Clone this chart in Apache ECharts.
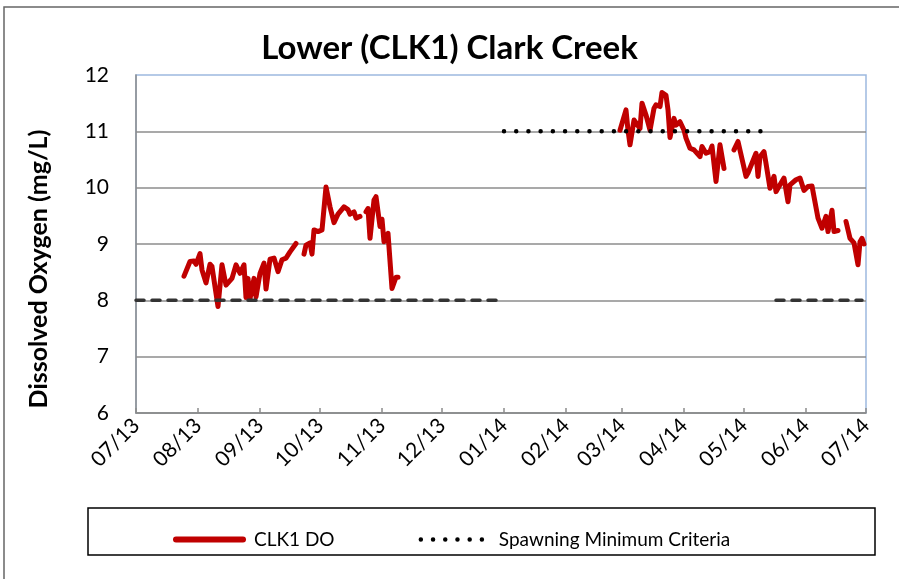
<!DOCTYPE html>
<html>
<head>
<meta charset="utf-8">
<script src="https://cdn.jsdelivr.net/npm/echarts@6/dist/echarts.min.js"></script>
<style>
  html, body { margin: 0; padding: 0; background: #fff; }
  #container { width: 899px; height: 579px; }
</style>
</head>
<body>
<div id="container"></div>
<script>
var dom = document.getElementById("container");
var myChart = echarts.init(dom);

// month ticks along the bottom
var tickDates = ['2013-07-01', '2013-08-01', '2013-09-01', '2013-10-01', '2013-11-01', '2013-12-01',
    '2014-01-01', '2014-02-01', '2014-03-01', '2014-04-01', '2014-05-01', '2014-06-01', '2014-07-01'];
var tickLabels = ['07/13', '08/13', '09/13', '10/13', '11/13', '12/13',
    '01/14', '02/14', '03/14', '04/14', '05/14', '06/14', '07/14'];

// CLK1 DO readings (null = gap in record)
var doData = [
    ['2013-07-25', 8.43], ['2013-07-28', 8.69], ['2013-07-30', 8.70], ['2013-07-31', 8.64],
    ['2013-08-02', 8.83], ['2013-08-03', 8.54], ['2013-08-05', 8.31], ['2013-08-07', 8.64],
    ['2013-08-08', 8.60], ['2013-08-11', 7.89], ['2013-08-13', 8.63], ['2013-08-15', 8.27],
    ['2013-08-18', 8.39], ['2013-08-20', 8.63], ['2013-08-22', 8.48], ['2013-08-24', 8.63],
    ['2013-08-25', 8.05], ['2013-08-26', 8.39], ['2013-08-27', 8.03], ['2013-08-29', 8.39],
    ['2013-08-30', 8.06], ['2013-09-01', 8.48], ['2013-09-03', 8.66], ['2013-09-04', 8.20],
    ['2013-09-06', 8.73], ['2013-09-08', 8.75], ['2013-09-10', 8.51], ['2013-09-12', 8.72],
    ['2013-09-14', 8.75], ['2013-09-16', 8.86], ['2013-09-19', 9.01],
    ['2013-09-21', null],
    ['2013-09-23', 8.82], ['2013-09-24', 8.98], ['2013-09-26', 9.02], ['2013-09-27', 8.82],
    ['2013-09-28', 9.25], ['2013-09-30', 9.22], ['2013-10-02', 9.25], ['2013-10-04', 10.01],
    ['2013-10-06', 9.66], ['2013-10-08', 9.38], ['2013-10-10', 9.53], ['2013-10-13', 9.66],
    ['2013-10-15', 9.61], ['2013-10-16', 9.53], ['2013-10-18', 9.57], ['2013-10-19', 9.46],
    ['2013-10-21', 9.49],
    ['2013-10-22', null],
    ['2013-10-24', 9.57], ['2013-10-25', 9.63], ['2013-10-26', 9.10], ['2013-10-28', 9.78],
    ['2013-10-29', 9.84], ['2013-10-30', 9.87], ['2013-10-31', 9.31], ['2013-11-01', 9.44],
    ['2013-11-02', 9.04], ['2013-11-04', 9.19], ['2013-11-06', 8.21], ['2013-11-08', 8.41],
    ['2013-11-09', 8.41],
    ['2013-12-15', null],
    ['2014-02-28', 11.02], ['2014-03-03', 11.38], ['2014-03-04', 11.02], ['2014-03-05', 10.76],
    ['2014-03-07', 11.20], ['2014-03-08', 11.23], ['2014-03-10', 11.05], ['2014-03-11', 11.50],
    ['2014-03-13', 11.29], ['2014-03-15', 11.02], ['2014-03-17', 11.41], ['2014-03-18', 11.47],
    ['2014-03-20', 11.44], ['2014-03-21', 11.69], ['2014-03-23', 11.64], ['2014-03-24', 11.38],
    ['2014-03-25', 10.89], ['2014-03-27', 11.23], ['2014-03-28', 11.11], ['2014-03-30', 11.17],
    ['2014-04-01', 11.02], ['2014-04-02', 10.88], ['2014-04-04', 10.70], ['2014-04-06', 10.67],
    ['2014-04-09', 10.55], ['2014-04-10', 10.73], ['2014-04-12', 10.61], ['2014-04-14', 10.64],
    ['2014-04-15', 10.74], ['2014-04-17', 10.11], ['2014-04-19', 10.76], ['2014-04-20', 10.76],
    ['2014-04-21', 10.34],
    ['2014-04-23', null],
    ['2014-04-26', 10.67], ['2014-04-28', 10.82], ['2014-05-02', 10.20], ['2014-05-03', 10.26],
    ['2014-05-04', 10.23], ['2014-05-07', 10.61], ['2014-05-08', 10.20], ['2014-05-09', 10.55],
    ['2014-05-11', 10.64], ['2014-05-12', 10.43], ['2014-05-14', 9.99], ['2014-05-16', 10.20],
    ['2014-05-17', 9.93], ['2014-05-19', 10.05], ['2014-05-21', 10.17], ['2014-05-23', 9.75],
    ['2014-05-24', 10.05], ['2014-05-27', 10.14], ['2014-05-29', 10.17], ['2014-05-31', 9.95],
    ['2014-06-01', 9.93], ['2014-06-02', 10.02], ['2014-06-04', 10.03], ['2014-06-05', 9.84],
    ['2014-06-07', 9.46], ['2014-06-09', 9.28], ['2014-06-11', 9.49], ['2014-06-12', 9.22],
    ['2014-06-14', 9.60], ['2014-06-15', 9.22], ['2014-06-17', 9.24],
    ['2014-06-19', null],
    ['2014-06-21', 9.40], ['2014-06-23', 9.10], ['2014-06-25', 9.02], ['2014-06-27', 8.63],
    ['2014-06-28', 9.04], ['2014-06-29', 9.10], ['2014-06-30', 9.00]
];

// spawning criteria (dotted, 11 mg/L)
var spawnData = [['2014-01-01', 11], ['2014-05-10', 11]];
// non-spawning criteria (dashed, 8 mg/L)
var minData = [['2013-07-01', 8], ['2013-12-28', 8], ['2014-03-01', null], ['2014-05-17', 8], ['2014-06-29', 8]];

function toTime(d) {
    return echarts.time.parse(d).getTime();
}
function toPoints(arr) {
    return arr.map(function (p) {
        return [toTime(p[0]), p[1] === null ? '-' : p[1]];
    });
}

var tickTimes = tickDates.map(toTime);

var fontName = 'Lato';
var dotted = [0.01, 12.2];
var noSymbol = { color: 'rgba(0,0,0,0)', borderWidth: 0, opacity: 0 };

option = {
    backgroundColor: '#fff',
    animation: false,
    title: {
        text: 'Lower (CLK1) Clark Creek',
        left: 'center',
        top: 27,
        textStyle: {
            fontFamily: fontName,
            fontSize: 33,
            fontWeight: 'bold',
            color: '#000'
        }
    },
    grid: {
        left: 136,
        right: 33,
        top: 75,
        bottom: 166,
        show: true,
        borderColor: '#9db9df',
        borderWidth: 1.5
    },
    legend: {
        left: 168,
        top: 525,
        itemWidth: 67,
        itemHeight: 14,
        itemGap: 84,
        data: [
            { name: 'CLK1 DO', itemStyle: noSymbol, lineStyle: { width: 6, cap: 'round' } },
            { name: 'Spawning Minimum Criteria', itemStyle: noSymbol, lineStyle: { width: 4.5, type: dotted, cap: 'round' } }
        ],
        textStyle: {
            fontFamily: fontName,
            fontSize: 19,
            color: '#000',
            padding: [0, 0, 0, 6]
        }
    },
    xAxis: {
        type: 'value',
        min: tickTimes[0],
        max: tickTimes[tickTimes.length - 1],
        axisLine: { lineStyle: { color: '#8c8c8c', width: 1.5 } },
        axisTick: {
            show: true,
            inside: true,
            length: 5,
            customValues: tickTimes,
            lineStyle: { color: '#8c8c8c', width: 1.5 }
        },
        axisLabel: {
            customValues: tickTimes,
            rotate: 45,
            margin: 9,
            fontFamily: fontName,
            fontSize: 21,
            color: '#000',
            formatter: function (val) {
                var i = tickTimes.indexOf(+val);
                return i >= 0 ? tickLabels[i] : '';
            }
        },
        splitLine: { show: false }
    },
    yAxis: {
        type: 'value',
        min: 6,
        max: 12,
        interval: 1,
        axisLine: { show: true, lineStyle: { color: '#8c8c8c', width: 1.5 } },
        axisTick: { show: false },
        axisLabel: {
            margin: 27,
            fontFamily: fontName,
            fontSize: 21,
            color: '#000'
        },
        splitLine: {
            show: true,
            showMaxLine: false,
            lineStyle: { color: '#8c8c8c', width: 1.5 }
        }
    },
    graphic: [
        {
            type: 'rect',
            shape: { x: 4, y: 7, width: 1000, height: 1000 },
            style: { fill: 'none', stroke: '#666', lineWidth: 1.5 },
            silent: true
        },
        {
            type: 'rect',
            shape: { x: 88, y: 508, width: 787, height: 47 },
            style: { fill: 'none', stroke: '#000', lineWidth: 1.5 },
            silent: true
        },
        {
            type: 'text',
            x: 39,
            y: 269,
            rotation: Math.PI / 2,
            style: {
                text: 'Dissolved Oxygen (mg/L)',
                fontFamily: fontName,
                fontSize: 25,
                fontWeight: 'bold',
                fill: '#000',
                textAlign: 'center',
                textVerticalAlign: 'middle'
            }
        }
    ],
    series: [
        {
            name: 'CLK1 DO',
            type: 'line',
            data: toPoints(doData),
            symbol: 'none',
            connectNulls: false,
            z: 2,
            lineStyle: { color: '#c00000', width: 5, join: 'round', cap: 'round' },
            itemStyle: { color: '#c00000' }
        },
        {
            name: 'Criteria 8',
            type: 'line',
            data: toPoints(minData),
            symbol: 'none',
            connectNulls: false,
            z: 3,
            lineStyle: { color: '#333', width: 3.5, type: [8, 8], cap: 'round' },
            itemStyle: { color: '#333' }
        },
        {
            name: 'Spawning Minimum Criteria',
            type: 'line',
            data: toPoints(spawnData),
            symbol: 'none',
            z: 4,
            lineStyle: { color: '#000', width: 4.5, type: dotted, cap: 'round' },
            itemStyle: { color: '#000' }
        }
    ]
};

if (option && typeof option === "object") {
    myChart.setOption(option, true);
}
</script>
</body>
</html>
